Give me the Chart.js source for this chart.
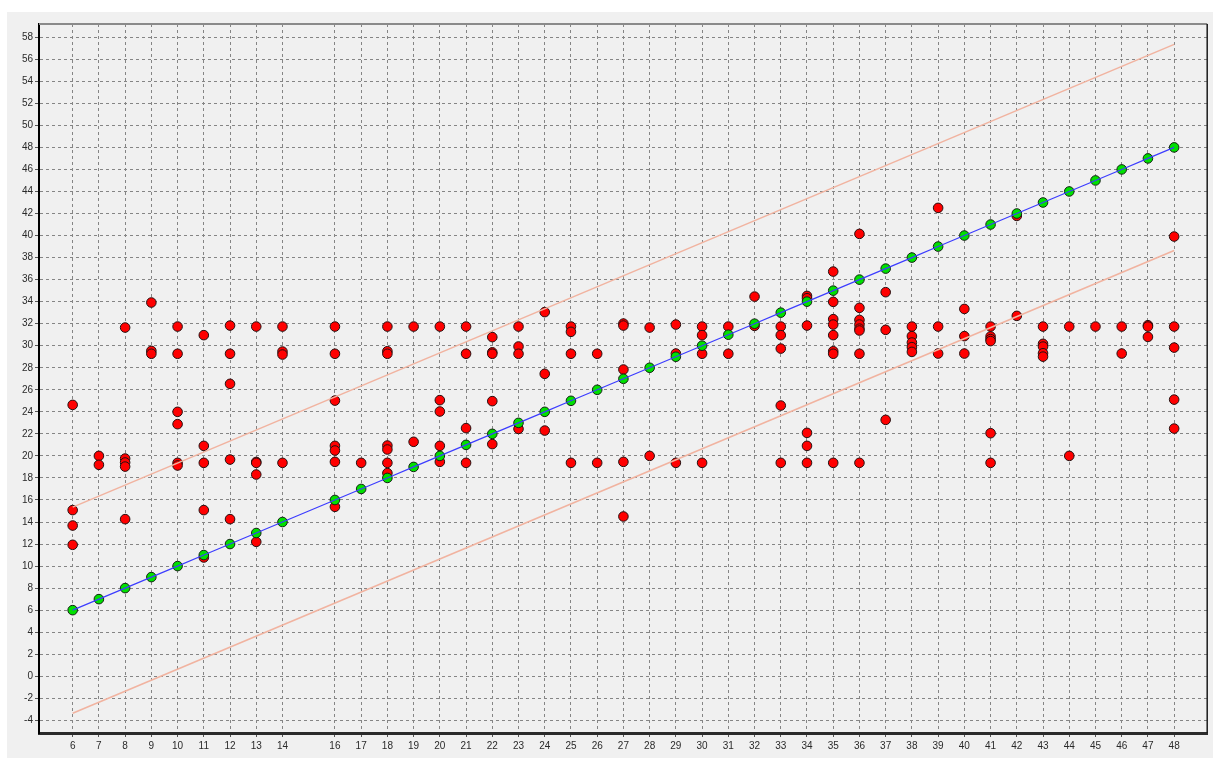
<!DOCTYPE html>
<html>
<head>
<meta charset="utf-8">
<script src="https://cdn.jsdelivr.net/npm/chart.js@4.4.1/dist/chart.umd.min.js"></script>
<style>
  html, body { margin: 0; padding: 0; background: #ffffff; }
  #panel { position: absolute; left: 7px; top: 12px; width: 1206px; height: 746px; background: #f0f0f0; }
  canvas { display: block; }
</style>
</head>
<body>
<div id="panel"><canvas id="chart" width="1206" height="746"></canvas></div>
<script>
// Axis tick values
const xTickValues = [6, 7, 8, 9, 10, 11, 12, 13, 14, 16, 17, 18, 19, 20, 21, 22, 23, 24, 25, 26, 27,
  28, 29, 30, 31, 32, 33, 34, 35, 36, 37, 38, 39, 40, 41, 42, 43, 44, 45, 46, 47, 48];
const yTickValues = [-4, -2, 0, 2, 4, 6, 8, 10, 12, 14, 16, 18, 20, 22, 24, 26, 28, 30, 32, 34,
  36, 38, 40, 42, 44, 46, 48, 50, 52, 54, 56, 58];

// Reference (identity) series
const refX = [6, 7, 8, 9, 10, 11, 12, 13, 14, 16, 17, 18, 19, 20, 21, 22, 23, 24, 25, 26, 27,
  28, 29, 30, 31, 32, 33, 34, 35, 36, 37, 38, 39, 40, 41, 42, 43, 44, 45, 46, 47, 48];
const refY = [6, 7, 8, 9, 10, 11, 12, 13, 14, 16, 17, 18, 19, 20, 21, 22, 23, 24, 25, 26, 27,
  28, 29, 30, 31, 32, 33, 34, 35, 36, 37, 38, 39, 40, 41, 42, 43, 44, 45, 46, 47, 48];

// Tolerance band
const upperX = [6, 48];
const upperY = [15.35, 57.35];
const lowerX = [6, 48];
const lowerY = [-3.35, 38.65];

// Observed values
const obsX = [
  6, 6, 6, 6,
  7, 7,
  8, 8, 8, 8, 8,
  9, 9, 9,
  10, 10, 10, 10, 10, 10,
  11, 11, 11, 11, 11,
  12, 12, 12, 12, 12,
  13, 13, 13, 13, 13,
  14, 14, 14, 14,
  16, 16, 16, 16, 16, 16, 16,
  17,
  18, 18, 18, 18, 18, 18, 18,
  19, 19,
  20, 20, 20, 20, 20,
  21, 21, 21, 21,
  22, 22, 22, 22, 22,
  23, 23, 23, 23,
  24, 24, 24,
  25, 25, 25, 25,
  26, 26,
  27, 27, 27, 27, 27,
  28, 28,
  29, 29, 29,
  30, 30, 30, 30,
  31, 31,
  32, 32,
  33, 33, 33, 33, 33,
  34, 34, 34, 34, 34, 34,
  35, 35, 35, 35, 35, 35, 35, 35,
  36, 36, 36, 36, 36, 36, 36, 36,
  37, 37, 37,
  38, 38, 38, 38, 38,
  39, 39, 39,
  40, 40, 40,
  41, 41, 41, 41, 41, 41,
  42, 42,
  43, 43, 43, 43, 43,
  44, 44,
  45,
  46, 46,
  47, 47, 47,
  48, 48, 48, 48, 48
];
const obsY = [
  24.63, 15.08, 13.68, 11.93,
  20.0, 19.19,
  31.65, 19.76, 19.4, 19.03, 14.26,
  33.92, 29.53, 29.27,
  31.74, 29.27, 24.0, 22.88, 19.37, 19.13,
  30.96, 20.91, 19.37, 15.08, 10.78,
  31.83, 29.27, 26.54, 19.67, 14.26,
  31.74, 19.45, 19.37, 18.31, 12.2,
  31.74, 29.47, 29.2, 19.37,
  31.74, 29.27, 25.02, 20.91, 20.49, 19.46, 15.38,
  19.37,
  31.74, 29.5, 29.27, 20.94, 20.58, 19.37, 18.44,
  31.74, 21.28,
  31.74, 25.06, 24.03, 20.91, 19.46,
  31.74, 29.27, 22.52, 19.37,
  30.78, 29.4, 29.27, 24.97, 21.07,
  31.74, 29.93, 29.27, 22.45,
  33.05, 27.45, 22.3,
  31.74, 31.26, 29.27, 19.37,
  29.27, 19.37,
  32.01, 31.83, 27.84, 19.46, 14.5,
  31.65, 20.0,
  31.92, 29.29, 19.37,
  31.74, 30.96, 29.27, 19.37,
  31.74, 29.27,
  34.46, 31.8,
  31.74, 30.96, 29.74, 24.57, 19.37,
  34.52, 34.31, 31.83, 22.09, 20.91, 19.37,
  36.73, 33.98, 32.41, 31.92, 30.96, 29.5, 29.27, 19.37,
  40.15, 33.44, 32.34, 31.92, 31.55, 31.38, 29.27, 19.37,
  34.86, 31.44, 23.27,
  31.74, 30.87, 30.29, 29.87, 29.44,
  42.51, 31.74, 29.29,
  33.34, 30.87, 29.29,
  31.74, 30.84, 30.6, 30.42, 22.06, 19.37,
  41.78, 32.71,
  31.74, 30.17, 29.92, 29.32, 29.01,
  31.74, 20.0,
  31.74,
  31.74, 29.29,
  31.86, 31.74, 30.8,
  39.91, 31.74, 29.83, 25.11, 22.48
];

const toPoints = (xs, ys) => xs.map((x, i) => ({ x: x, y: ys[i] }));

const tickFont = { family: '"Liberation Sans", Arial, sans-serif', size: 10 };

// Top and right edges of the plot frame
const framePlugin = {
  id: 'plotFrame',
  afterDraw(chart) {
    const { ctx, chartArea: a } = chart;
    ctx.save();
    ctx.lineWidth = 2;
    ctx.strokeStyle = '#8a8a8a';
    ctx.beginPath();
    ctx.moveTo(a.left, a.top);
    ctx.lineTo(a.right, a.top);
    ctx.stroke();
    ctx.lineWidth = 1.5;
    ctx.strokeStyle = '#1a1a1a';
    ctx.beginPath();
    ctx.moveTo(a.right, a.top);
    ctx.lineTo(a.right, a.bottom);
    ctx.stroke();
    ctx.restore();
  }
};

new Chart(document.getElementById('chart'), {
  type: 'scatter',
  data: {
    datasets: [
      {
        data: toPoints(refX, refY),
        showLine: true,
        borderColor: '#3c3cff',
        borderWidth: 1.2,
        pointRadius: 0,
        fill: false
      },
      {
        data: toPoints(upperX, upperY),
        showLine: true,
        borderColor: '#f1b3a0',
        borderWidth: 1.6,
        pointRadius: 0,
        fill: false
      },
      {
        data: toPoints(lowerX, lowerY),
        showLine: true,
        borderColor: '#f1b3a0',
        borderWidth: 1.6,
        pointRadius: 0,
        fill: false
      },
      {
        data: toPoints(refX, refY),
        backgroundColor: '#00e000',
        borderColor: '#142014',
        borderWidth: 1,
        pointRadius: 4.8
      },
      {
        data: toPoints(obsX, obsY),
        backgroundColor: '#ff0000',
        borderColor: '#241010',
        borderWidth: 1,
        pointRadius: 4.8
      }
    ]
  },
  options: {
    responsive: false,
    devicePixelRatio: 1,
    animation: false,
    events: [],
    layout: { padding: { left: 0, top: 12, right: 5, bottom: 0 } },
    plugins: {
      legend: { display: false },
      tooltip: { enabled: false }
    },
    scales: {
      x: {
        type: 'linear',
        min: 4.716,
        max: 49.26,
        afterBuildTicks: (s) => { s.ticks = xTickValues.map(v => ({ value: v })); },
        afterFit: (s) => { s.height = 25; },
        ticks: {
          autoSkip: false,
          maxRotation: 0,
          padding: 3,
          color: '#2a2a2a',
          font: tickFont,
          callback: (v) => String(v)
        },
        grid: {
          color: '#858585',
          lineWidth: 1,
          drawTicks: true,
          tickLength: 4,
          tickColor: '#555555'
        },
        border: { display: true, color: '#2b2b2b', width: 3, dash: [3, 3] }
      },
      y: {
        type: 'linear',
        min: -5.15,
        max: 59.2,
        afterBuildTicks: (s) => { s.ticks = yTickValues.map(v => ({ value: v })); },
        afterFit: (s) => { s.width = 32; },
        ticks: {
          padding: 2,
          color: '#2a2a2a',
          font: tickFont,
          callback: (v) => String(v)
        },
        grid: {
          color: '#858585',
          lineWidth: 1,
          drawTicks: true,
          tickLength: 4,
          tickColor: '#555555'
        },
        border: { display: true, color: '#000000', width: 2, dash: [3, 3] }
      }
    }
  },
  plugins: [framePlugin]
});
</script>
</body>
</html>
